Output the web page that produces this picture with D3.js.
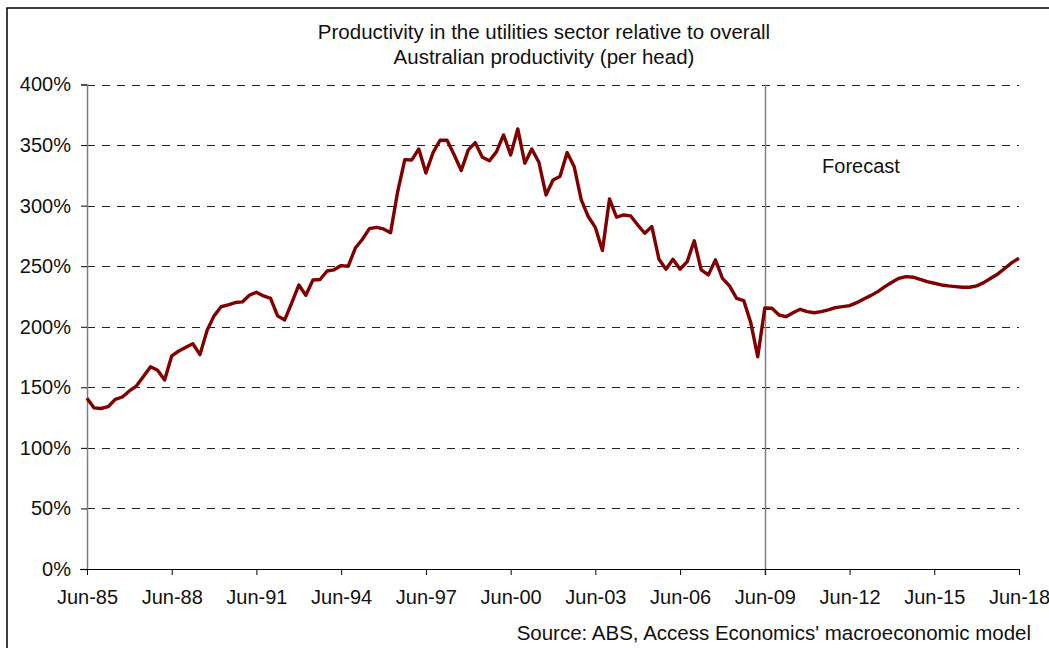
<!DOCTYPE html>
<html>
<head>
<meta charset="utf-8">
<script src="https://cdn.jsdelivr.net/npm/d3@7"></script>
<style>
  body { margin: 0; background: white; }
  text { font-family: "Liberation Sans", Arial, sans-serif; }
</style>
</head>
<body>
<svg></svg>
<script>
// Set up the size of SVG element
var width = 1049,
    height = 648

var svg = d3.select("svg")
    .attr("width", width)
    .attr("height", height)

// Quarterly ratio of utilities productivity to overall productivity (%),
// starting Jun-85, forecast from Jun-09
var values = [
    141, 133, 132.5, 134, 140, 142, 147, 151, 159, 167, 164, 156,
    176, 180, 183, 186, 177, 197, 209, 216.5, 218, 220, 220.5, 226,
    228.5, 225.4, 223.5, 209, 205.6, 220, 234.5, 226, 238.6, 239, 246, 247,
    250.5, 250, 265, 272, 281, 282, 280.8, 277.7, 311.6, 338, 337.7, 346.8,
    327, 343.7, 354, 354, 342, 329, 346, 352, 340, 337, 344.6, 358.4,
    341.9, 363.3, 335, 346.8, 335.8, 308.8, 321.2, 324, 343.8, 332, 304.7, 291,
    282, 263, 305.5, 290.4, 292.3, 291.5, 284, 277.2, 282.7, 255.7, 247.5, 255.7,
    247.5, 253.8, 271, 246.9, 242.8, 255.2, 240, 233.7, 223.5, 221.6, 203.4, 175.3,
    215.5, 215.3, 209.7, 208.3, 211.6, 214.4, 212.5, 211.6, 212.5, 213.9, 215.8, 216.6,
    217.4, 219.9, 222.9, 225.7, 229, 233.1, 236.7, 240, 241.4, 240.9, 239.2, 237.3,
    235.9, 234.5, 233.7, 233.1, 232.6, 232.6, 233.7, 236.4, 240, 243.6, 248.3, 252.9,
    256.6
]

var start = new Date(1985, 5, 1)
var data = values.map(function(v, i) {
    return {date: d3.timeMonth.offset(start, 3 * i), value: v}
})

var x = d3.scaleTime()
    .domain([start, new Date(2018, 5, 1)])
    .range([87, 1019])

var y = d3.scaleLinear()
    .domain([0, 400])
    .range([569, 84.5])

// Outer chart frame (runs off the right and bottom of the picture)
svg.append("rect")
    .attr("x", 7)
    .attr("y", 8)
    .attr("width", 1100)
    .attr("height", 700)
    .style("fill", "none")
    .style("stroke", "black")
    .style("stroke-width", "1.5px")

// Dashed gridlines
svg.append("g")
    .selectAll("line")
    .data(d3.range(50, 401, 50))
    .enter().append("line")
    .attr("x1", 87)
    .attr("x2", 1019)
    .attr("y1", function(d) { return Math.round(y(d)) + 0.5 })
    .attr("y2", function(d) { return Math.round(y(d)) + 0.5 })
    .style("stroke", "#222")
    .style("stroke-dasharray", "8,7")

// Forecast divider at Jun-09
var jun09 = new Date(2009, 5, 1)
svg.append("line")
    .attr("x1", Math.round(x(jun09)) + 0.5)
    .attr("x2", Math.round(x(jun09)) + 0.5)
    .attr("y1", y(400))
    .attr("y2", y(0) + 6)
    .style("stroke", "#808080")
    .style("stroke-width", "1.5px")

svg.append("text")
    .attr("x", 861)
    .attr("y", 173)
    .attr("text-anchor", "middle")
    .style("font-size", "20px")
    .style("fill", "#111")
    .text("Forecast")

// Y axis
var yAxis = svg.append("g")
    .attr("transform", "translate(87,0)")
    .call(d3.axisLeft(y)
        .tickValues(d3.range(0, 401, 50))
        .tickSize(6)
        .tickPadding(10)
        .tickFormat(function(d) { return d + "%" }))
yAxis.select(".domain").style("stroke", "#808080").style("stroke-width", "1.5px")
yAxis.selectAll("text").style("font-size", "20px").style("fill", "#111")
    .style("font-family", "Liberation Sans, Arial, sans-serif")

// X axis, a label every three years
var ticks = d3.range(0, 12).map(function(i) { return new Date(1985 + 3 * i, 5, 1) })
var xAxis = svg.append("g")
    .attr("transform", "translate(0," + y(0) + ")")
    .call(d3.axisBottom(x)
        .tickValues(ticks)
        .tickSize(6)
        .tickSizeOuter(0)
        .tickPadding(15)
        .tickFormat(d3.timeFormat("Jun-%y")))
xAxis.select(".domain").attr("d", "M80,0.5H1019")
xAxis.selectAll("text").style("font-size", "20px").style("fill", "#111")
    .style("font-family", "Liberation Sans, Arial, sans-serif")

// The productivity line
var line = d3.line()
    .x(function(d) { return x(d.date) })
    .y(function(d) { return y(d.value) })

svg.append("path")
    .datum(data)
    .attr("d", line)
    .style("fill", "none")
    .style("stroke", "#800000")
    .style("stroke-width", "3.4px")
    .style("stroke-linejoin", "round")

// Title
svg.append("text")
    .attr("x", 544)
    .attr("y", 39)
    .attr("text-anchor", "middle")
    .style("font-size", "20.5px")
    .style("fill", "#111")
    .text("Productivity in the utilities sector relative to overall")

svg.append("text")
    .attr("x", 544)
    .attr("y", 64)
    .attr("text-anchor", "middle")
    .style("font-size", "20.5px")
    .style("fill", "#111")
    .text("Australian productivity (per head)")

// Source note
svg.append("text")
    .attr("x", 1031)
    .attr("y", 640)
    .attr("text-anchor", "end")
    .style("font-size", "20.5px")
    .style("fill", "#111")
    .text("Source: ABS, Access Economics' macroeconomic model")
</script>
</body>
</html>
